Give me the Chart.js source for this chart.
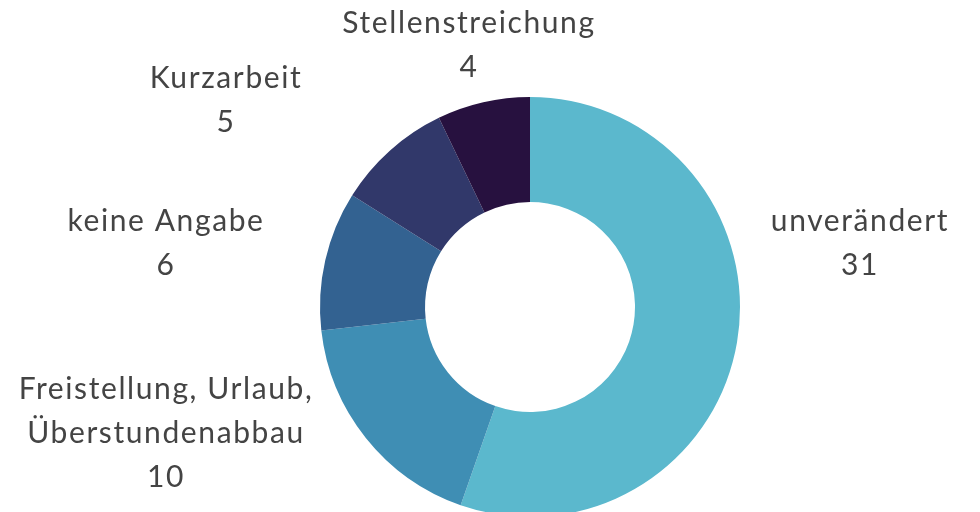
<!DOCTYPE html>
<html>
<head>
<meta charset="utf-8">
<script src="https://cdn.jsdelivr.net/npm/chart.js@4"></script>
<style>
    html, body { margin: 0; padding: 0; background: #fff; overflow: hidden; }
    #wrap { width: 980px; height: 520px; }
</style>
</head>
<body>
<div id="wrap"><canvas id="chart"></canvas></div>
<script>
// Data
const categories = ['unverändert', 'Freistellung, Urlaub,\nÜberstundenabbau', 'keine Angabe', 'Kurzarbeit', 'Stellenstreichung'];
const values = [31, 10, 6, 5, 4];
const colors = ['#5bb8cd', '#3f8eb4', '#336291', '#31386a', '#27113f'];

// label anchor (centre of first text line), relative to doughnut centre
const labelOffsets = [[330, -86], [-364, 82], [-364, -86], [-304, -229], [-61, -284]];

const outerLabels = {
    id: 'outerLabels',
    afterDraw(chart) {
        const ctx = chart.ctx;
        const arc = chart.getDatasetMeta(0).data[0];
        const cx = arc.x, cy = arc.y;
        ctx.save();
        ctx.font = '400 30px Lato';
        ctx.letterSpacing = '1.6px';
        ctx.fillStyle = '#444444';
        ctx.textAlign = 'center';
        ctx.textBaseline = 'middle';
        chart.data.labels.forEach((label, i) => {
            const lines = label.split('\n').concat(String(chart.data.datasets[0].data[i]));
            const x = cx + labelOffsets[i][0];
            let y = cy + labelOffsets[i][1];
            lines.forEach(line => {
                ctx.fillText(line, x, y);
                y += 44;
            });
        });
        ctx.restore();
    }
};

new Chart(document.getElementById('chart'), {
    type: 'doughnut',
    data: {
        labels: categories,
        datasets: [{
            data: values,
            backgroundColor: colors,
            borderWidth: 0
        }]
    },
    options: {
        responsive: true,
        maintainAspectRatio: false,
        animation: false,
        cutout: '50%',
        layout: { padding: { left: 320, right: 240, top: 97, bottom: 3 } },
        plugins: {
            legend: { display: false },
            tooltip: { enabled: false }
        }
    },
    plugins: [outerLabels]
});
</script>
</body>
</html>
